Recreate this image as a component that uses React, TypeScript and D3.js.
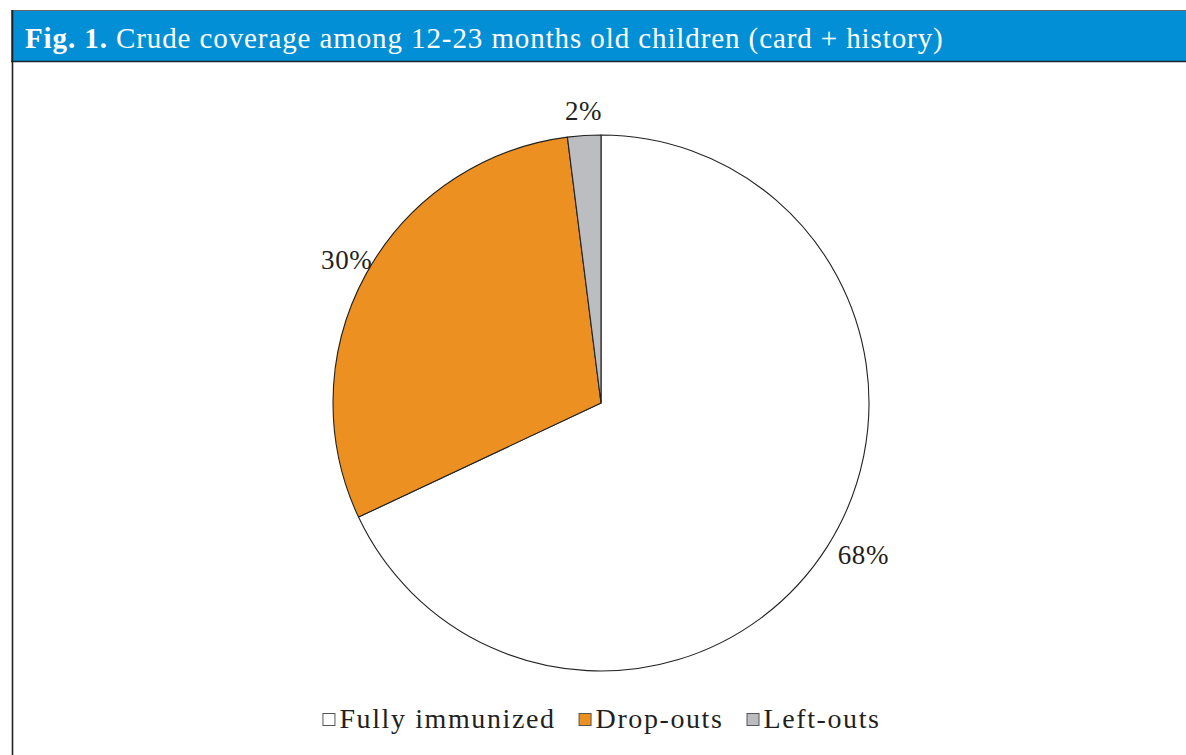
import React, { useEffect, useRef } from 'react';
import * as d3 from 'd3';

const categories = ['Fully immunized', 'Drop-outs', 'Left-outs'];
const shares = [68, 30, 2];
const colors = ['#ffffff', '#ec9121', '#bcbdc1'];
const title = 'Crude coverage among 12-23 months old children (card + history)';

const W = 1186;
const H = 755;

const App: React.FC = () => {
  const svgRef = useRef<SVGSVGElement>(null);

  useEffect(() => {
    if (!svgRef.current) return;
    const svg = d3.select(svgRef.current);
    svg.selectAll('*').remove();

    const font = '"Liberation Serif", "DejaVu Serif", serif';

    // header band
    svg.append('rect').attr('x', 11).attr('y', 10).attr('width', W - 11).attr('height', 51).attr('fill', '#038fd6');
    svg.append('line').attr('x1', 11).attr('x2', W).attr('y1', 10.5).attr('y2', 10.5).attr('stroke', '#666').attr('stroke-width', 1);
    svg.append('line').attr('x1', 11).attr('x2', W).attr('y1', 61.5).attr('y2', 61.5).attr('stroke', '#1a2330').attr('stroke-width', 1.5);
    svg.append('line').attr('x1', 12.5).attr('x2', 12.5).attr('y1', 10).attr('y2', H).attr('stroke', '#222').attr('stroke-width', 1.6);

    const head = svg.append('text').attr('x', 25).attr('y', 48).attr('fill', '#fff')
      .attr('font-family', font).attr('font-size', 29).attr('letter-spacing', 0.9);
    head.append('tspan').attr('font-weight', 'bold').text('Fig. 1.');
    head.append('tspan').text(' ' + title);

    // pie
    const cx = 601, cy = 403, r = 268;
    const g = svg.append('g').attr('transform', `translate(${cx},${cy})`);
    const pie = d3.pie<number>().sort(null).value(d => d);
    const arcs = pie(shares);
    const arc = d3.arc<d3.PieArcDatum<number>>().innerRadius(0).outerRadius(r);

    g.selectAll('path.slice')
      .data(arcs)
      .enter()
      .append('path')
      .attr('class', 'slice')
      .attr('d', arc)
      .attr('fill', (_, i) => colors[i])
      .attr('stroke', '#222')
      .attr('stroke-width', 1.1)
      .attr('stroke-linejoin', 'round');

    // labels outside the pie
    const R = 278;
    arcs.forEach((a, i) => {
      const mid = (a.startAngle + a.endAngle) / 2;
      const s = Math.sin(mid), c = Math.cos(mid);
      const px = s * R, py = -c * R;
      const anchor = s > 0.3 ? 'start' : s < -0.3 ? 'end' : 'middle';
      const dx = anchor === 'end' ? 15 : anchor === 'start' ? 2 : 0;
      g.append('text')
        .attr('x', px + dx)
        .attr('y', py + 6 - 12 * c)
        .attr('text-anchor', anchor)
        .attr('font-family', font)
        .attr('font-size', 27)
        .attr('letter-spacing', 0.6)
        .attr('fill', '#231f20')
        .text(`${shares[i]}%`);
    });

    // legend
    const lg = svg.append('g');
    let x = 0;
    const box = 12;
    const gap = 23;
    categories.forEach((name, i) => {
      lg.append('rect').attr('x', x + 0.5).attr('y', 713.5).attr('width', box).attr('height', box)
        .attr('fill', colors[i]).attr('stroke', '#555').attr('stroke-width', 1);
      const t = lg.append('text').attr('x', x + box + 5).attr('y', 728)
        .attr('font-family', font).attr('font-size', 28).attr('letter-spacing', 1.6)
        .attr('fill', '#231f20').text(name);
      const w = (t.node() as SVGTextElement).getComputedTextLength();
      x += box + 5 + w + gap;
    });
    const total = x - gap;
    lg.attr('transform', `translate(${601.5 - total / 2},0)`);
  }, []);

  return (
    <svg ref={svgRef} width={W} height={H}
      style={{ position: 'absolute', left: 0, top: 0, background: '#fff' }} />
  );
};

export default App;
